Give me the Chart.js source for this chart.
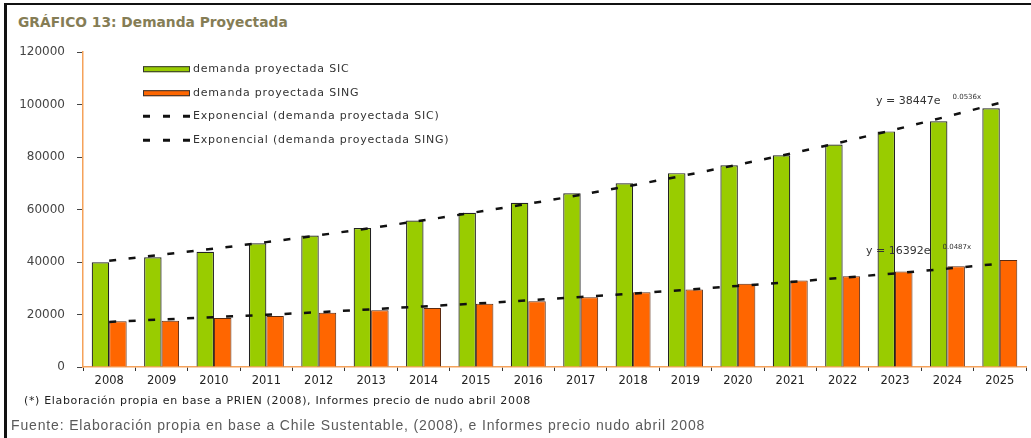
<!DOCTYPE html>
<html>
<head>
<meta charset="utf-8">
<script src="https://cdn.jsdelivr.net/npm/chart.js@4.4.1/dist/chart.umd.min.js"></script>
<style>
  html, body { margin: 0; padding: 0; background: #fff; }
  body { width: 1031px; height: 438px; position: relative; overflow: hidden; }
  #frame { position: absolute; left: 4px; top: 3px; width: 1027px; height: 435px;
           border-top: 2px solid #111; border-left: 3px solid #111; box-sizing: border-box; }
  #title { position: absolute; left: 18px; top: 14px; font: bold 13.8px "DejaVu Sans";
           line-height: 16px; color: #857d55; white-space: nowrap; }
  #wrap { position: absolute; left: 0; top: 33px; width: 1031px; height: 367px; }
  #note { position: absolute; left: 24px; top: 394px; font: 11px "DejaVu Sans";
          letter-spacing: 0.65px; line-height: 13px; color: #222; white-space: nowrap; }
  #source { position: absolute; left: 11px; top: 417px; font: 14px "Liberation Sans";
            letter-spacing: 0.85px; line-height: 16px; color: #5a5a5a; white-space: nowrap; }
</style>
</head>
<body>
<div id="frame"></div>
<div id="title">GRÁFICO 13: Demanda Proyectada</div>
<div id="wrap"><canvas id="chart"></canvas></div>
<div id="note">(*) Elaboración propia en base a PRIEN (2008), Informes precio de nudo abril 2008</div>
<div id="source">Fuente: Elaboración propia en base a Chile Sustentable, (2008), e Informes precio nudo abril 2008</div>

<script>
// Años de la proyección
const years = ['2008','2009','2010','2011','2012','2013','2014','2015','2016',
               '2017','2018','2019','2020','2021','2022','2023','2024','2025'];

// Demanda proyectada (GWh)
const demandaSIC  = [39900, 41800, 43900, 47200, 50100, 53000, 55800, 58800, 62600,
                     66200, 70000, 73900, 76900, 80700, 84800, 89800, 93700, 98600];
const demandaSING = [17400, 17600, 18700, 19400, 20700, 21600, 22500, 24100, 25100,
                     26600, 28500, 29500, 31700, 33000, 34600, 36400, 38400, 40800];

// Líneas de tendencia exponencial
const tendenciaSIC  = [40500, 42800, 45100, 47600, 50200, 53000, 55900, 59000, 62200,
                       65600, 69300, 73100, 77100, 81300, 85800, 90500, 95500, 100700];
const tendenciaSING = [17200, 18100, 19000, 19900, 20900, 22000, 23100, 24200, 25400,
                       26700, 28000, 29400, 30900, 32400, 34000, 35700, 37500, 39400];

// Etiquetas del eje vertical
const yTicks = [0, 20000, 40000, 60000, 80000, 100000, 120000];

// Ecuaciones de las tendencias
const ecuacionSIC  = { base: 'y = 38447e', exp: '0.0536x' };
const ecuacionSING = { base: 'y = 16392e', exp: '0.0487x' };

const verde = '#99cc00';
const naranjo = '#ff6600';
const ejeNaranjo = '#f5a25a';
const guiones = [7, 12.5];

// Leyenda dentro del área de trazado y ecuaciones de tendencia
const anotaciones = {
  id: 'anotaciones',
  afterDatasetsDraw(chart) {
    const ctx = chart.ctx;
    const area = chart.chartArea;
    const ds = chart.data.datasets;
    ctx.save();
    ctx.font = '11px "DejaVu Sans"';
    if ('letterSpacing' in ctx) ctx.letterSpacing = '0.8px';
    ctx.textBaseline = 'middle';
    const lx = area.left + 60;
    const tx = lx + 50;
    const rows = [area.top + 17, area.top + 41, area.top + 64, area.top + 88];
    // muestras de barra
    [0, 1].forEach((i, k) => {
      const y = rows[k];
      ctx.fillStyle = ds[i].backgroundColor;
      ctx.fillRect(lx, y - 3, 47, 6);
      ctx.strokeStyle = '#333';
      ctx.lineWidth = 1;
      ctx.strokeRect(lx + 0.5, y - 2.5, 46, 5);
      ctx.fillStyle = '#333';
      ctx.fillText(ds[i].label, tx, y);
    });
    // muestras de línea
    [2, 3].forEach((i, k) => {
      const y = rows[k + 2];
      ctx.strokeStyle = '#111';
      ctx.lineWidth = 3;
      ctx.setLineDash([7, 13]);
      ctx.beginPath();
      ctx.moveTo(lx, y);
      ctx.lineTo(lx + 48, y);
      ctx.stroke();
      ctx.setLineDash([]);
      ctx.fillStyle = '#333';
      ctx.fillText(ds[i].label, tx, y);
    });

    // ecuaciones
    if ('letterSpacing' in ctx) ctx.letterSpacing = '0px';
    const xs = chart.scales.x, ys = chart.scales.y;
    const eq = (e, data, idx, dx, dy) => {
      const x = xs.getPixelForValue(idx) + dx;
      const y = ys.getPixelForValue(data[idx]) + dy;
      ctx.font = '11px "DejaVu Sans"';
      ctx.fillStyle = '#333';
      ctx.textBaseline = 'middle';
      ctx.fillText(e.base, x, y);
      const w = ctx.measureText(e.base).width;
      ctx.font = '7px "DejaVu Sans"';
      ctx.fillText(e.exp, x + w + 12, y - 4);
    };
    eq(ecuacionSIC, tendenciaSIC, 15, -19, -28);
    eq(ecuacionSING, tendenciaSING, 15, -29, -22);
    ctx.restore();
  }
};

Chart.defaults.font.family = '"DejaVu Sans"';
Chart.defaults.color = '#333';

new Chart(document.getElementById('chart'), {
  type: 'bar',
  data: {
    labels: years,
    datasets: [
      { label: 'demanda proyectada SIC', data: demandaSIC, backgroundColor: verde,
        borderColor: '#222', borderWidth: 1.2, order: 1,
        categoryPercentage: 0.667, barPercentage: 1.0 },
      { label: 'demanda proyectada SING', data: demandaSING, backgroundColor: naranjo,
        borderColor: '#5a2a10', borderWidth: 1, order: 1,
        categoryPercentage: 0.667, barPercentage: 1.0 },
      { type: 'line', label: 'Exponencial (demanda proyectada SIC)', data: tendenciaSIC,
        borderColor: '#111', borderWidth: 2.5, borderDash: guiones, pointRadius: 0,
        fill: false, tension: 0, order: 0 },
      { type: 'line', label: 'Exponencial (demanda proyectada SING)', data: tendenciaSING,
        borderColor: '#111', borderWidth: 2.5, borderDash: guiones, pointRadius: 0,
        fill: false, tension: 0, order: 0 }
    ]
  },
  options: {
    responsive: true,
    maintainAspectRatio: false,
    animation: false,
    layout: { padding: { top: 10, right: 5, left: 0, bottom: 0 } },
    plugins: { legend: { display: false }, tooltip: { enabled: false } },
    scales: {
      x: {
        grid: { display: true, drawOnChartArea: false, drawTicks: true, tickLength: 4,
                color: '#333', offset: true },
        border: { color: ejeNaranjo, width: 1.5 },
        ticks: { font: { size: 11.5 }, color: '#222', padding: 3, maxRotation: 0 },
        afterFit(s) { s.height = 33; }
      },
      y: {
        min: 0, max: 120000,
        afterBuildTicks(s) { s.ticks = yTicks.map(v => ({ value: v })); },
        grid: { display: true, drawOnChartArea: false, drawTicks: true, tickLength: 6,
                color: '#444' },
        border: { color: ejeNaranjo, width: 1.5 },
        ticks: { font: { size: 12 }, color: '#444', padding: 12,
                 callback: v => String(v) },
        afterFit(s) { s.width = 83; }
      }
    }
  },
  plugins: [anotaciones]
});
</script>
</body>
</html>
